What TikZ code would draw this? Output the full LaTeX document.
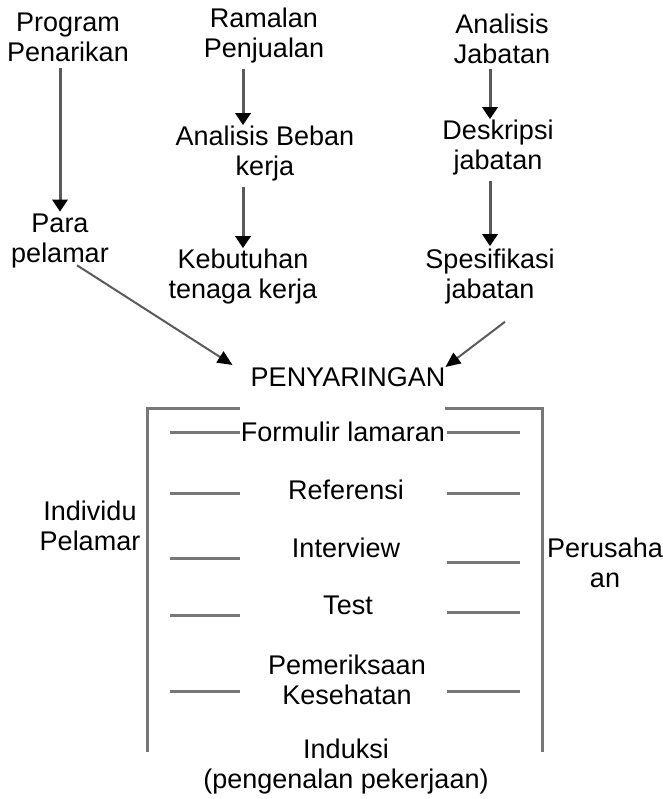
\documentclass[tikz,border=0pt]{standalone}
\usepackage{fontspec}
\setmainfont{Liberation Sans}
\usetikzlibrary{arrows.meta,calc}
\definecolor{linegray}{HTML}{777777}
\definecolor{shaftgray}{HTML}{5A5A5A}
\begin{document}
\begin{tikzpicture}[x=1pt,y=-1pt,
  lbl/.style={inner sep=0pt,align=center,font=\fontsize{27}{30}\selectfont},
  flow/.style={draw=shaftgray,line width=3pt,
    -{Triangle[width=15pt,length=12pt,color=black]}},
  diag/.style={draw=shaftgray,line width=2pt,
    -{Triangle[width=13pt,length=15pt,color=black]}},
  frame/.style={draw=linegray,line width=3pt},
  tick/.style={draw=linegray,line width=3pt}]
\useasboundingbox (0,0) rectangle (662,799);

% left column
\node[lbl] (prog) at (68,37) {Program\\Penarikan};
\node[lbl] (para) at (60,241) {Para\\pelamar};
% middle column
\node[lbl] (ram) at (264,36) {Ramalan\\Penjualan};
\node[lbl] (beban) at (265,154) {Analisis Beban\\kerja};
\node[lbl] (keb) at (243,277) {Kebutuhan\\tenaga kerja};
% right column
\node[lbl] (aj) at (502,39) {Analisis\\Jabatan};
\node[lbl] (desk) at (498,148) {Deskripsi\\jabatan};
\node[lbl] (spes) at (490,277) {Spesifikasi\\jabatan};

\node[lbl] (peny) at (348,377) {PENYARINGAN};

% vertical flows
\draw[flow,shorten <=6pt,shorten >=2pt] (para.north |- prog.south) -- (para.north);
\draw[flow,shorten <=5pt,shorten >=1pt] (keb.north |- ram.south) -- (keb.north |- beban.north);
\draw[flow,shorten <=5pt,shorten >=1pt] (keb.north |- beban.south) -- (keb.north);
\draw[flow,shorten <=5pt,shorten >=1pt] (spes.north |- aj.south) -- (spes.north |- desk.north);
\draw[flow,shorten <=5pt,shorten >=3pt] (spes.north |- desk.south) -- (spes.north);

% converging flows
\draw[diag] ($(para.south)+(17,-3)$) -- ($(peny.west)+(-18,-12)$);
\draw[diag] ($(spes.south)+(15,17)$) -- ($(peny.east)+(0,-10)$);

% screening frame
\draw[frame] (240,408) -- (147,408) -- (147,752);
\draw[frame] (445,408) -- (542,408) -- (542,752);

% screening steps
\node[lbl] (form) at (343,432) {Formulir lamaran};
\node[lbl] (ref) at (346,490) {Referensi};
\node[lbl] (intv) at (346,548) {Interview};
\node[lbl] (test) at (348,605) {Test};
\node[lbl] (per) at (347,680) {Pemeriksaan\\Kesehatan};
\node[lbl] (ind) at (346,767) {Induksi\\(pengenalan pekerjaan)};

% side labels
\node[lbl] (indiv) at (90,526) {Individu\\Pelamar};
\node[lbl] (perus) at (605,563) {Perusaha\\an};

% step ticks
\draw[tick] (170,432) -- (240,432);  \draw[tick] (447,432) -- (520,432);
\draw[tick] (170,493) -- (240,493);  \draw[tick] (447,493) -- (520,493);
\draw[tick] (170,558) -- (240,558);  \draw[tick] (447,562) -- (520,562);
\draw[tick] (170,615) -- (240,615);  \draw[tick] (447,612) -- (520,612);
\draw[tick] (170,691) -- (240,691);  \draw[tick] (447,691) -- (520,691);
\end{tikzpicture}
\end{document}
